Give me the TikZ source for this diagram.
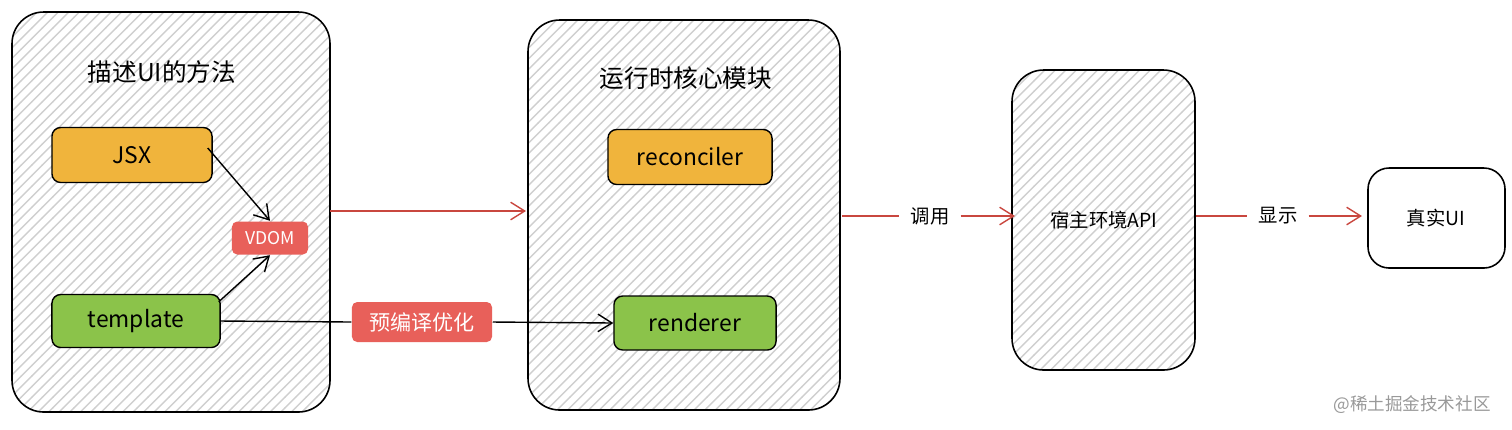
\documentclass[tikz,border=0pt]{standalone}
\usepackage{fontspec}
\setmainfont{Noto Sans CJK SC}
\usetikzlibrary{patterns,arrows.meta}
\definecolor{hatch}{HTML}{CFCFCF}
\definecolor{orangefill}{HTML}{F0B43C}
\definecolor{greenfill}{HTML}{8BC34A}
\definecolor{redfill}{HTML}{E8605A}
\definecolor{redline}{HTML}{C9473F}
\tikzset{
 px/.style={x=0.01cm,y=-0.01cm},
 container/.style={draw=black,line width=0.45pt,rounded corners=9pt,pattern={north east lines},pattern color=hatch},
 item/.style={draw=black,line width=0.4pt,rounded corners=2.5pt,font=\fontsize{6.5}{8}\selectfont,inner sep=0pt},
 tag/.style={fill=redfill,rounded corners=1.5pt,text=white,font=\fontsize{5}{6}\selectfont,inner sep=0pt},
 lbl/.style={font=\fontsize{5.5}{7}\selectfont},
 blk/.style={draw=black,line width=0.4pt,-{Straight Barb[length=4pt,width=5pt]}},
 red/.style={draw=redline,line width=0.4pt,-{Straight Barb[length=4pt,width=5pt]}}
}
\begin{document}
\begin{tikzpicture}[px]
\useasboundingbox (0,0) rectangle (1512,429);
% containers
\draw[container] (12,12) rectangle (330,412);
\node[font=\fontsize{7}{8}\selectfont] (t1) at (162,72) {描述UI的方法};
\draw[container] (528,20) rectangle (840,410);
\node[font=\fontsize{7}{8}\selectfont] (t2) at (686,78) {运行时核心模块};
\draw[container] (1012,70) rectangle (1195,370);
\node[lbl] (host) at (1104,220) {宿主环境API};
\draw[line width=0.45pt,rounded corners=6pt,fill=white] (1368,168) rectangle (1505,268);
\node[lbl] (realui) at (1436,218) {真实UI};
% items
\node[item,fill=orangefill,minimum width=1.6cm,minimum height=0.55cm] (jsx) at (132,155) {JSX};
\node[item,fill=greenfill,minimum width=1.68cm,minimum height=0.53cm] (tpl) at (136,321) {template};
\node[tag,minimum width=0.76cm,minimum height=0.33cm] (vdom) at (270,238) {VDOM};
\node[item,fill=orangefill,minimum width=1.64cm,minimum height=0.55cm] (rec) at (690,157) {reconciler};
\node[item,fill=greenfill,minimum width=1.62cm,minimum height=0.54cm] (ren) at (695,323) {renderer};
\node[tag,minimum width=1.4cm,minimum height=0.4cm,font=\fontsize{6}{7}\selectfont] (pre) at (422,322) {预编译优化};
% arrows
\draw[blk] (jsx.east) ++(-5,-7) -- (vdom.north);
\draw[blk] (tpl.north east) ++(-2,8) -- (vdom.south);
\draw[line width=0.4pt] (tpl.east) -- (pre.west);
\draw[blk] (pre.east) -- (ren.west);
\coordinate (a1) at (330,211);
\coordinate (a2) at (526,211);
\draw[red] (a1) -- (a2);
\coordinate (b1) at (842,216);
\coordinate (b2) at (1015,216);
\node[lbl,fill=white,inner sep=3pt] (call) at (930,216) {调用};
\draw[redline,line width=0.4pt] (b1) -- (call.west);
\draw[red] (call.east) -- (b2);
\coordinate (c1) at (1196,216);
\coordinate (c2) at (1362,216);
\node[lbl,fill=white,inner sep=3pt] (show) at (1278,216) {显示};
\draw[redline,line width=0.4pt] (c1) -- (show.west);
\draw[red] (show.east) -- (c2);
\node[text=gray!80,font=\fontsize{5}{6}\selectfont] (wm) at (1412,405) {@稀土掘金技术社区};
\end{tikzpicture}
\end{document}
